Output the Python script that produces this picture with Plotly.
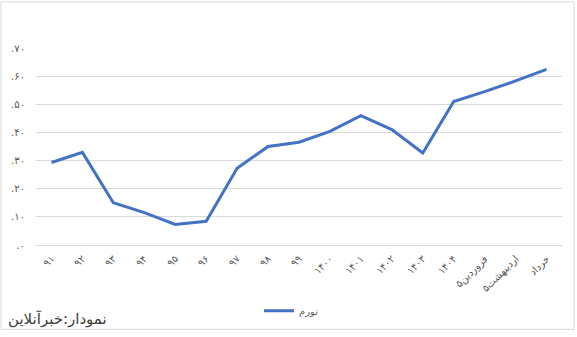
import plotly.graph_objects as go

categories = ["۹۱", "۹۲", "۹۳", "۹۴", "۹۵", "۹۶", "۹۷", "۹۸", "۹۹",
              "۱۴۰۰", "۱۴۰۱", "۱۴۰۲", "۱۴۰۳", "۱۴۰۴",
              "فروردین۵", "اردیبهشت۵", "خرداد"]
inflation = [0.293, 0.329, 0.150, 0.115, 0.073, 0.084, 0.273, 0.350, 0.365,
             0.404, 0.460, 0.410, 0.327, 0.510, 0.545, 0.583, 0.624]
series_name = "تورم"
y_tickvals = [0, 0.1, 0.2, 0.3, 0.4, 0.5, 0.6, 0.7]
y_ticktext = [".۰", ".۱۰", ".۲۰", ".۳۰", ".۴۰", ".۵۰", ".۶۰", ".۷۰"]
source_text = "نمودار:خبرآنلاین"

W, H = 577, 337
L, R, T, B = 36, 15, 48, 88
pw, ph = W - L - R, H - T - B

fig = go.Figure()
fig.add_trace(go.Scatter(
    x=categories, y=inflation, mode="lines", name=series_name,
    line=dict(color="#4472C4", width=3),
))

fig.update_layout(
    width=W, height=H,
    margin=dict(l=L, r=R, t=T, b=B),
    paper_bgcolor="white", plot_bgcolor="white",
    font=dict(family="DejaVu Sans, Noto Sans", color="#595959", size=10),
    showlegend=True,
    legend=dict(orientation="h", x=(259 - L) / pw, xanchor="left",
                y=(H - B - 316) / ph, yanchor="middle",
                font=dict(size=10, color="#595959"),
                itemwidth=30, bgcolor="rgba(0,0,0,0)"),
    xaxis=dict(type="category", tickangle=-45, showgrid=False,
               showline=True, linecolor="#d9d9d9", linewidth=1,
               ticks="", ticklabelstandoff=3,
               tickfont=dict(size=10, color="#595959"),
               range=[-0.5, len(categories) - 0.5]),
    yaxis=dict(range=[0, 0.7], tickmode="array", tickvals=y_tickvals,
               ticktext=y_ticktext, showgrid=True, gridcolor="#d9d9d9",
               gridwidth=1, zeroline=False, showline=False, ticks="",
               ticklabelstandoff=10,
               tickfont=dict(size=10, color="#595959")),
    shapes=[dict(type="rect", xref="paper", yref="paper",
                 x0=(1 - L) / pw, x1=(574 - L) / pw,
                 y0=(H - B - 335) / ph, y1=(H - B - 1) / ph,
                 line=dict(color="#d9d9d9", width=1),
                 fillcolor="rgba(0,0,0,0)", layer="below")],
    annotations=[dict(text=source_text, xref="paper", yref="paper",
                      x=(6 - L) / pw, xanchor="left",
                      y=(H - B - 325) / ph, yanchor="middle",
                      showarrow=False,
                      font=dict(size=15, color="#404040",
                                family="DejaVu Sans, Noto Sans"))],
)

fig.write_html("out.html")
